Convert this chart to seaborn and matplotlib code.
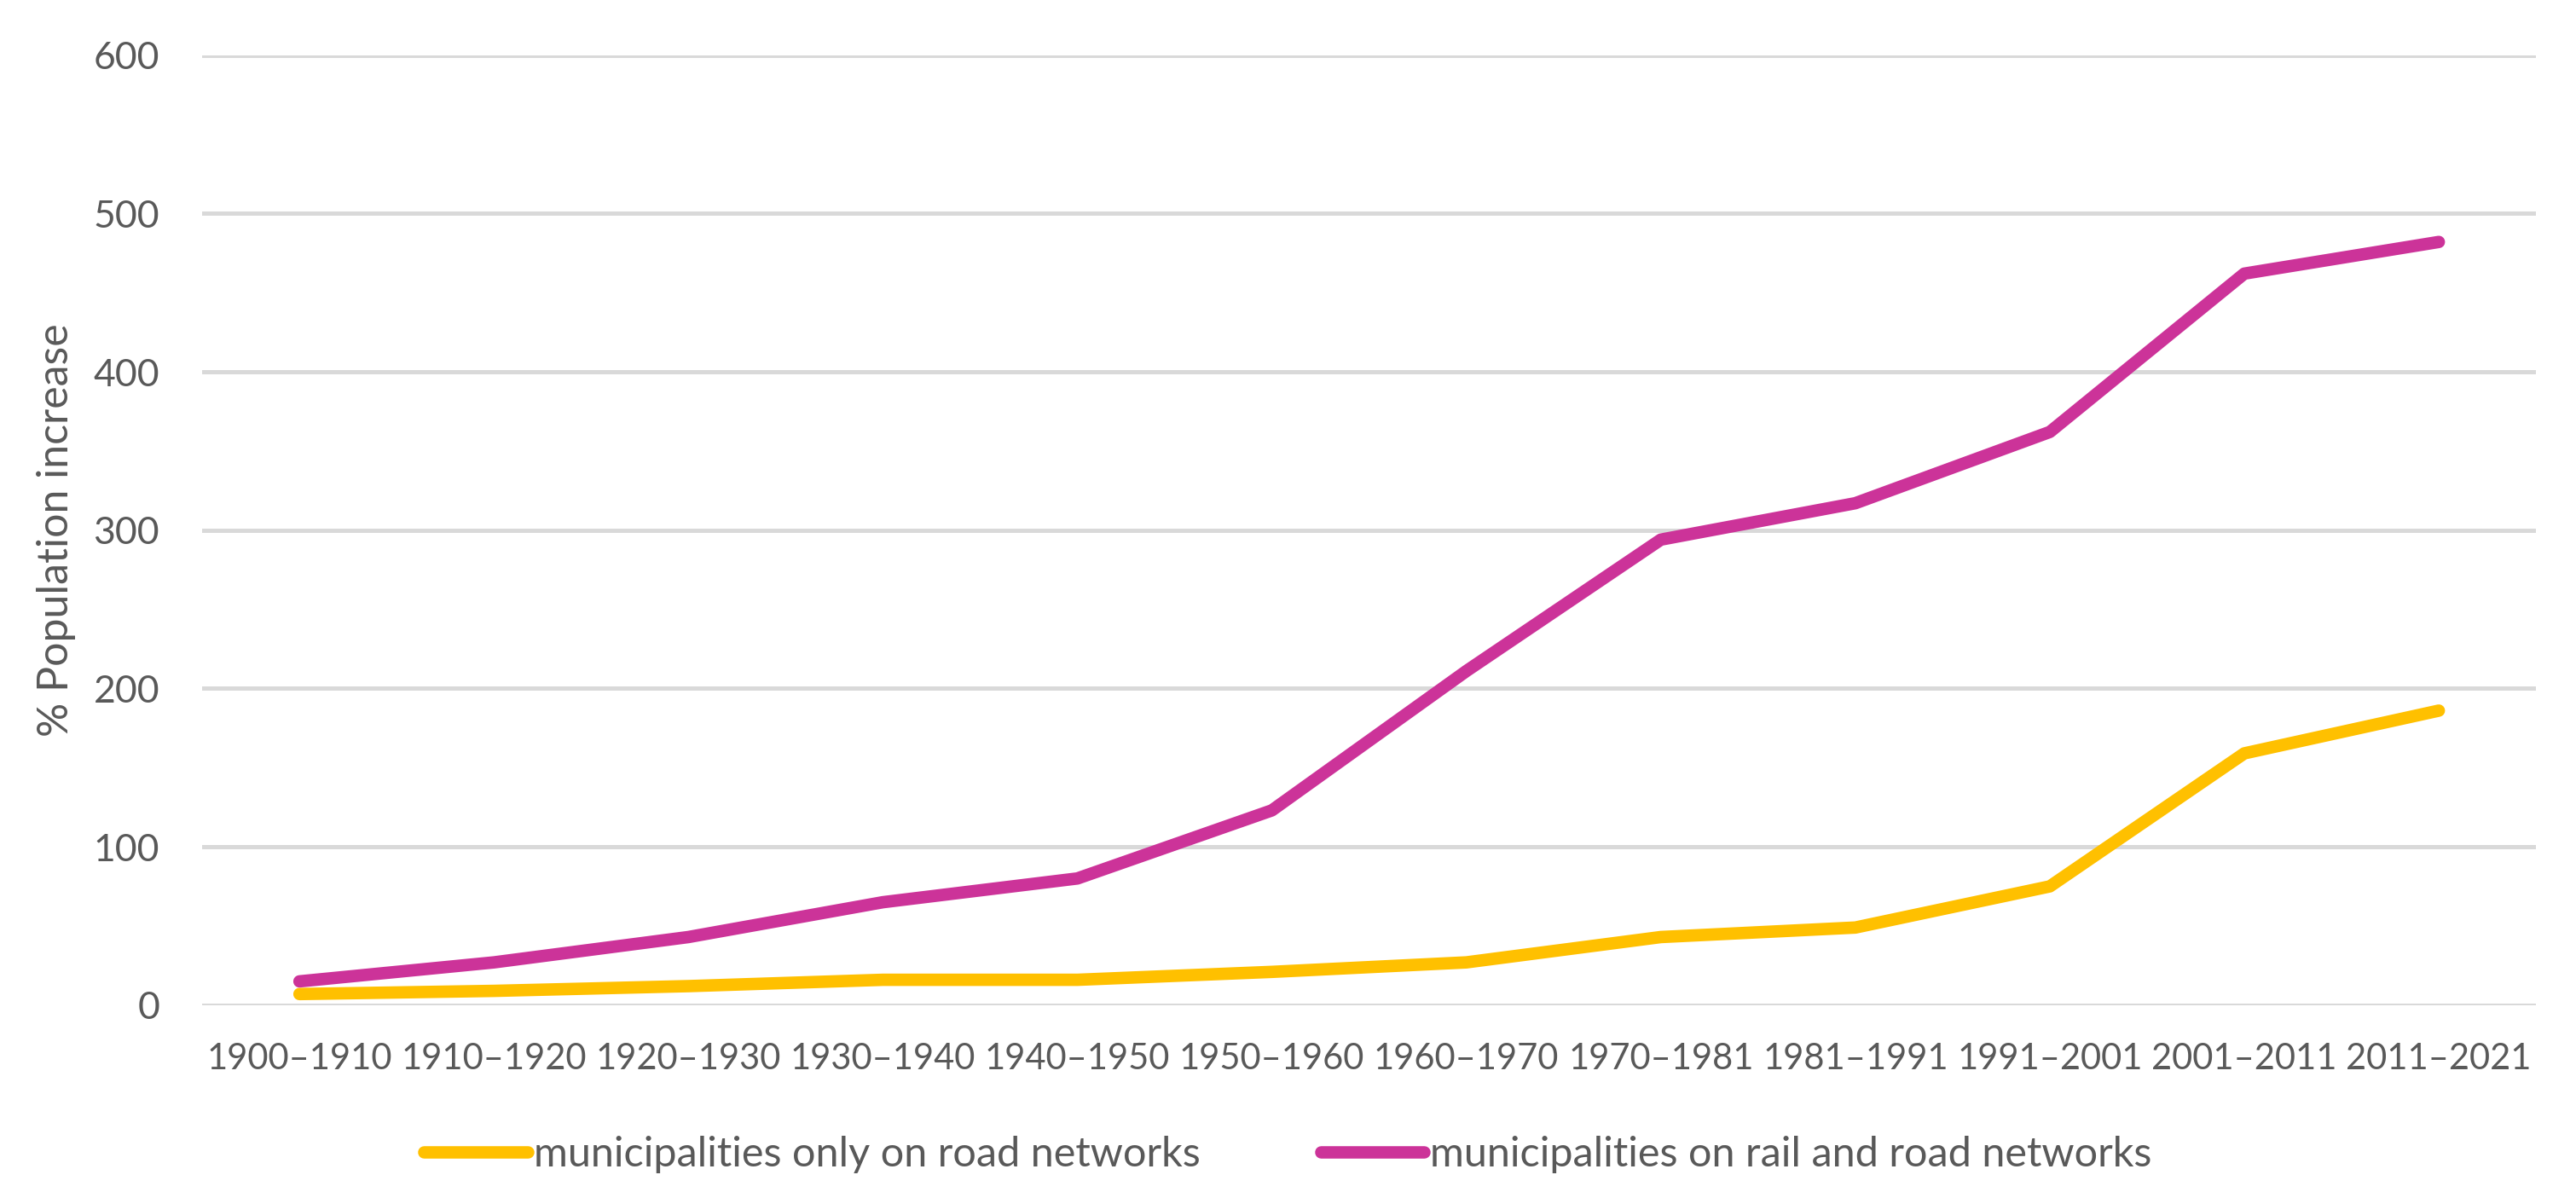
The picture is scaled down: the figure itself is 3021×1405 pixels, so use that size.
import pandas as pd
import matplotlib.pyplot as plt
import seaborn as sns

# Dados
periods = ["1900–1910", "1910–1920", "1920–1930", "1930–1940", "1940–1950",
           "1950–1960", "1960–1970", "1970–1981", "1981–1991", "1991–2001",
           "2001–2011", "2011–2021"]
road_only = [7, 9, 12, 16, 16, 21, 27, 43, 49, 75, 159, 186]
rail_road = [15, 27, 43, 65, 80, 123, 211, 294, 317, 362, 462, 482]

label_road = "municipalities only on road networks"
label_rail = "municipalities on rail and road networks"

df = pd.DataFrame({
    "period": periods * 2,
    "value": road_only + rail_road,
    "series": [label_road] * len(periods) + [label_rail] * len(periods),
})

sns.set_style("white")
plt.rcParams["font.family"] = ["Lato", "DejaVu Sans"]
grey = "#595959"

fig = plt.figure(figsize=(30.21, 14.05), dpi=100)
ax = fig.add_axes([0.0785, 0.161, 0.906, 0.793])

sns.lineplot(data=df, x="period", y="value", hue="series",
             palette={label_road: "#FFC000", label_rail: "#CC3399"},
             linewidth=10.5, sort=False, ax=ax, legend=True)
for ln in ax.lines:
    ln.set_solid_capstyle("round")
    ln.set_solid_joinstyle("round")

ax.set_ylim(0, 600)
ax.set_xlim(-0.5, len(periods) - 0.5)
ax.set_yticks(range(0, 601, 100))
ax.yaxis.grid(True, color="#D9D9D9", linewidth=3.6)
ax.set_axisbelow(True)
for s in ax.spines.values():
    s.set_visible(False)
ax.tick_params(axis="both", length=0, colors=grey)
ax.tick_params(axis="x", pad=32, labelsize=30)
ax.tick_params(axis="y", pad=36, labelsize=32)
ax.set_xlabel("")
ax.set_ylabel("% Population increase", fontsize=36, color=grey)
ax.yaxis.set_label_coords(-0.054, 0.5)

handles, labels = ax.get_legend_handles_labels()
for h in handles:
    h.set_solid_capstyle("round")
ax.legend(handles, labels, loc="center", bbox_to_anchor=(0.5, 0.036),
          bbox_transform=fig.transFigure, ncol=2, frameon=False,
          fontsize=35, labelcolor=grey, handlelength=2.5, handletextpad=0.15,
          columnspacing=2.9)

plt.savefig("out.png", dpi=100)
plt.close()
